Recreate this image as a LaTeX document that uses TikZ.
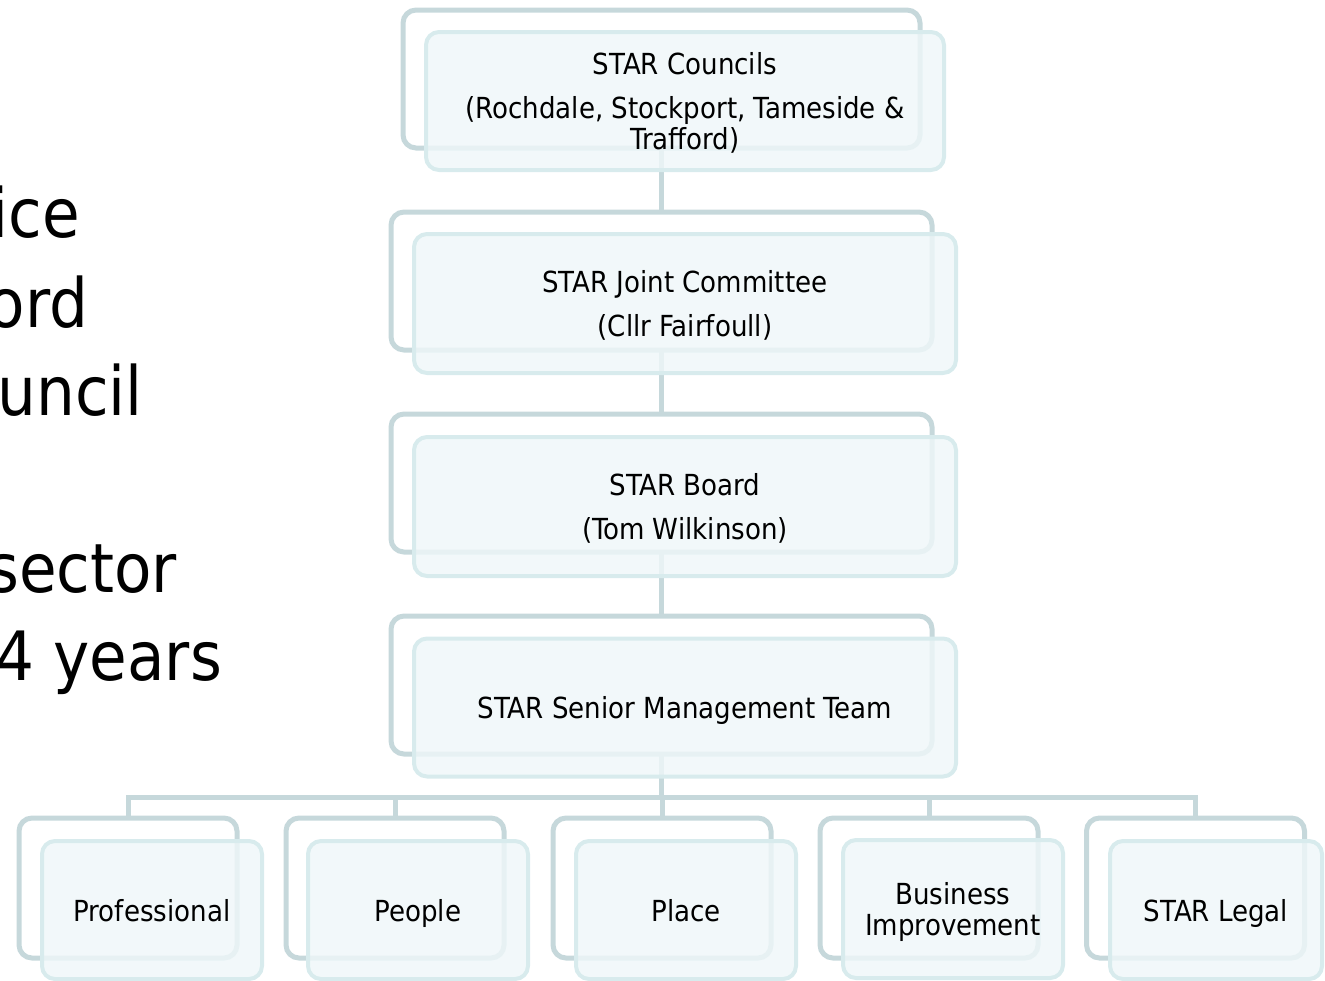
\documentclass[tikz,border=0pt]{standalone}
\usepackage{fontspec}
\setmainfont{DejaVu Sans Condensed}
\definecolor{backc}{HTML}{C6D8DB}
\definecolor{frontc}{HTML}{D8EBED}
\definecolor{frontfill}{HTML}{EFF7F9}
\newcommand{\topstrut}[1]{\rule{0pt}{#1}}
\begin{document}
\begin{tikzpicture}[x=1pt,y=-1pt,
  back/.style={draw=backc, line width=5pt, rounded corners=13pt, inner sep=0pt, outer sep=0pt},
  front/.style={draw=frontc, line width=4pt, fill=frontfill, fill opacity=0.82, text opacity=1,
    rounded corners=13pt, inner sep=0pt, outer sep=0pt, align=center,
    font=\fontsize{29}{31}\selectfont, text=black},
  oneline/.style={text height=27pt, text depth=5pt},
  conn/.style={draw=backc, line width=5pt},
  big/.style={font=\fontsize{68}{80}\selectfont, anchor=base east, inner sep=0pt, outer sep=0pt}]
\useasboundingbox (0,0) rectangle (1325,980);
\begin{scope}
\clip (0,0) rectangle (1325,980);
\node[big] (t1) at (80,237) {ice};
\node[big] (t2) at (88,327) {ord};
\node[big] (t3) at (143,415) {uncil};
\node[big] (t4) at (177,592) {sector};
\node[big] (t5) at (222,680) {4 years};

% back boxes
\node[back, minimum width=517pt, minimum height=138pt] (b1) at (661.5,79) {};
\node[back, minimum width=541pt, minimum height=138pt] (b2) at (661.5,281) {};
\node[back, minimum width=541pt, minimum height=138pt] (b3) at (661.5,483) {};
\node[back, minimum width=541pt, minimum height=138pt] (b4) at (661.5,685) {};
\foreach \i/\x in {1/128,2/395,3/662,4/929,5/1195.5}
  \node[back, minimum width=218pt, minimum height=140pt] (c\i) at (\x,888) {};

% connectors
\draw[conn] (b1.south) -- (b2.north);
\draw[conn] (b2.south) -- (b3.north);
\draw[conn] (b3.south) -- (b4.north);
\coordinate (bus) at (661.5,797);
\draw[conn] (b4.south) -- (bus);
\foreach \i in {1,...,5}
  \draw[conn] (c\i.north) |- (bus);

% front boxes
\node[front, minimum width=518pt, minimum height=138pt] (f1) at (685,101)
  {\topstrut{26pt}STAR Councils\\[13pt](Rochdale, Stockport, Tameside \&\\Trafford)};
\node[front, minimum width=542pt, minimum height=139pt] (f2) at (685,303.5)
  {\topstrut{26pt}STAR Joint Committee\\[13pt](Cllr Fairfoull)};
\node[front, minimum width=542pt, minimum height=139pt] (f3) at (685,506.5)
  {\topstrut{26pt}STAR Board\\[13pt](Tom Wilkinson)};
\node[front, oneline, minimum width=542pt, minimum height=138pt] (f4) at (685,707.5)
  {STAR Senior Management Team};
\node[front, oneline, minimum width=220pt, minimum height=138pt] (d1) at (152,910) {Professional};
\node[front, oneline, minimum width=220pt, minimum height=138pt] (d2) at (418,910) {People};
\node[front, oneline, minimum width=220pt, minimum height=138pt] (d3) at (686,910) {Place};
\node[front, minimum width=220pt, minimum height=138pt] (d4) at (953,909) {\topstrut{29pt}Business\\Improvement};
\node[front, oneline, minimum width=212pt, minimum height=138pt] (d5) at (1216,910) {STAR Legal};
\end{scope}
\end{tikzpicture}
\end{document}
